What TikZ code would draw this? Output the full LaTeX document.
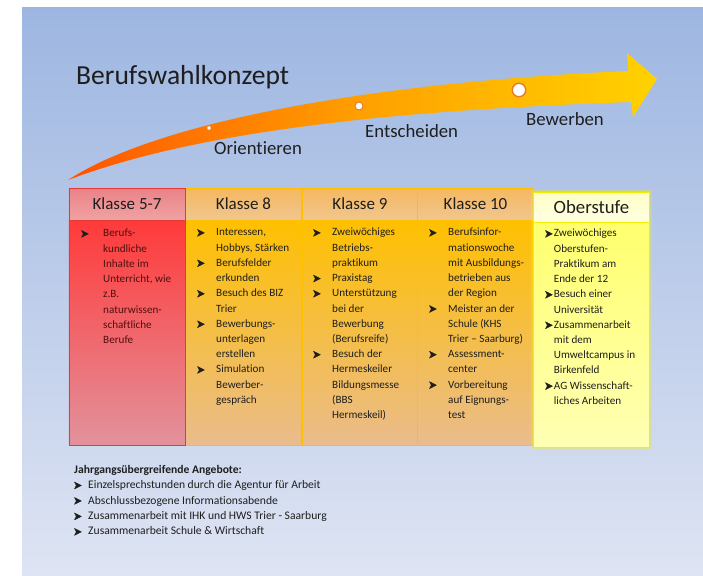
\documentclass[tikz,border=0pt]{standalone}
\usepackage{fontspec}
\setmainfont{Carlito}[Ligatures=NoCommon]
\usepackage{array}

\definecolor{bgtop}{RGB}{157,182,225}
\definecolor{bgbot}{RGB}{222,228,243}
\definecolor{pfa}{RGB}{248,0,0}
\definecolor{pfb}{RGB}{255,40,0}
\definecolor{pfc}{RGB}{255,100,0}
\definecolor{pfd}{RGB}{255,160,0}
\definecolor{pfe}{RGB}{255,210,0}
\definecolor{pff}{RGB}{245,245,30}
\definecolor{rotrand}{RGB}{229,57,53}
\definecolor{rotkopf}{RGB}{234,130,136}
\definecolor{rotkopfu}{RGB}{240,162,162}
\definecolor{rotoben}{RGB}{255,58,58}
\definecolor{rotunten}{RGB}{226,146,156}
\definecolor{orrand}{RGB}{255,192,0}
\definecolor{orkopf}{RGB}{245,184,96}
\definecolor{orkopfu}{RGB}{240,198,142}
\definecolor{oroben}{RGB}{255,192,0}
\definecolor{orunten}{RGB}{234,188,140}
\definecolor{gelbrand}{RGB}{240,240,0}
\definecolor{gelbkopf}{RGB}{255,255,200}
\definecolor{gelbkopfu}{RGB}{255,255,225}
\definecolor{gelboben}{RGB}{255,255,110}
\definecolor{gelbunten}{RGB}{255,255,180}
\definecolor{ringfarbe}{RGB}{230,120,40}
\definecolor{schrift}{RGB}{30,30,30}
\definecolor{rotschrift}{RGB}{80,15,15}

\pgfdeclarehorizontalshading{pfeilverlauf}{100bp}{color(0bp)=(pfa); color(15bp)=(pfb); color(30bp)=(pfc); color(50bp)=(pfd); color(75bp)=(pfe); color(100bp)=(pff)}

\newcommand{\pf}{\tikz[baseline=-2.6pt]\filldraw[schrift, line width=0.3pt, line join=round] (0pt,3pt) -- (6pt,0pt) -- (0pt,-3pt) -- (1.6pt,0pt) -- cycle;}
\newcommand{\liste}[2]{\begin{tabular}{@{}p{#1}@{}l@{}}#2\end{tabular}}

\tikzset{
  kopf/.style={draw, minimum width=3.48cm, minimum height=0.96cm, inner sep=0pt, font=\fontsize{14.5}{16}\selectfont, text=schrift},
  koerper/.style={draw, minimum width=3.48cm, minimum height=6.75cm, inner sep=0pt},
  punkte/.style={anchor=north west, inner sep=0pt, font=\fontsize{9.5}{13}\selectfont, text=schrift},
  etappe/.style={anchor=base west, inner sep=0pt, font=\fontsize{16}{18}\selectfont, text=schrift},
  marke/.style={circle, draw=ringfarbe, fill=white, inner sep=0pt}
}

\begin{document}
\begin{tikzpicture}[x=0.03cm, y=-0.03cm]
  \useasboundingbox (0,0) rectangle (703,575);
  \shade[top color=bgtop, bottom color=bgbot] (22,7) rectangle (703,575);

  % Pfeil
  \shade[shading=pfeilverlauf] (68,180) .. controls (160,120) and (380,82) .. (628,71) -- (627,53) -- (657,79) -- (633,117) -- (631,102) .. controls (400,110) and (200,130) .. (68,180) -- cycle;
  \node[marke, minimum size=3.5pt, line width=0.3pt] (orient) at (209,128) {};
  \node[marke, minimum size=6.8pt, line width=0.8pt] (entsch) at (359,106) {};
  \node[marke, minimum size=11.5pt, line width=1.2pt] (bewerb) at (519,90) {};
  \node[etappe] (lorient) at (214,154) {Orientieren};
  \node[etappe] (lentsch) at (365,137) {Entscheiden};
  \node[etappe] (lbewerb) at (526,125) {Bewerben};
  \node[anchor=base west, inner sep=0pt, font=\fontsize{23.5}{27}\selectfont, text=schrift] (titel) at (76,84) {Berufswahlkonzept};

  % Spalten
  \foreach \name/\x/\txt in {k8/243.5/Klasse 8, k9/360/Klasse 9, k10/475.5/Klasse 10}{
    \node[koerper, draw=orrand, top color=oroben, bottom color=orunten] (\name body) at (\x,332.5) {};
    \node[kopf, draw=orrand, top color=orkopf, bottom color=orkopfu] (\name) at (\x,204) {\txt};
  }
  \node[koerper, draw=rotrand, top color=rotoben, bottom color=rotunten] (k57body) at (127,332.5) {};
  \node[kopf, draw=rotrand, top color=rotkopf, bottom color=rotkopfu] (k57) at (127,204) {Klasse 5-7};
  \draw[gelbrand, opacity=0.35, line width=4pt] (533,192) rectangle (650,447);
  \node[koerper, draw=gelbrand, top color=gelboben, bottom color=gelbunten] (obbody) at (591.5,334.5) {};
  \node[kopf, draw=gelbrand, minimum height=0.9cm, top color=gelbkopf, bottom color=gelbkopfu, font=\fontsize{16}{18}\selectfont] (ob) at (591.5,207) {Oberstufe};

  % Inhalte
  \node[punkte, text=rotschrift] (k57text) at (81,226) {\liste{0.66cm}{\pf & Berufs-\\ & kundliche\\ & Inhalte im\\ & Unterricht, wie\\ & z.B.\\ & naturwissen-\\ & schaftliche\\ & Berufe}};
  \node[punkte] (k8text) at (197,225) {\liste{0.57cm}{\pf & Interessen,\\ & Hobbys, Stärken\\ \pf & Berufsfelder\\ & erkunden\\ \pf & Besuch des BIZ\\ & Trier\\ \pf & Bewerbungs-\\ & unterlagen\\ & erstellen\\ \pf & Simulation\\ & Bewerber-\\ & gespräch}};
  \node[punkte] (k9text) at (313,225) {\liste{0.57cm}{\pf & Zweiwöchiges\\ & Betriebs-\\ & praktikum\\ \pf & Praxistag\\ \pf & Unterstützung\\ & bei der\\ & Bewerbung\\ & (Berufsreife)\\ \pf & Besuch der\\ & Hermeskeiler\\ & Bildungsmesse\\ & (BBS\\ & Hermeskeil)}};
  \node[punkte] (k10text) at (429,225) {\liste{0.57cm}{\pf & Berufsinfor-\\ & mationswoche\\ & mit Ausbildungs-\\ & betrieben aus\\ & der Region\\ \pf & Meister an der\\ & Schule (KHS\\ & Trier -- Saarburg)\\ \pf & Assessment-\\ & center\\ \pf & Vorbereitung\\ & auf Eignungs-\\ & test}};
  \node[punkte] (obtext) at (545,226) {\liste{0.26cm}{\pf & Zweiwöchiges\\ & Oberstufen-\\ & Praktikum am\\ & Ende der 12\\ \pf & Besuch einer\\ & Universität\\ \pf & Zusammenarbeit\\ & mit dem\\ & Umweltcampus in\\ & Birkenfeld\\ \pf & AG Wissenschaft-\\ & liches Arbeiten}};

  % Jahrgangsuebergreifend
  \node[punkte, font=\fontsize{9.9}{13.2}\selectfont] (angebote) at (74,462) {\begin{tabular}{@{}p{0.42cm}@{}l@{}}
    \multicolumn{2}{@{}l@{}}{\bfseries Jahrgangsübergreifende Angebote:}\\
    \pf & Einzelsprechstunden durch die Agentur für Arbeit\\
    \pf & Abschlussbezogene Informationsabende\\
    \pf & Zusammenarbeit mit IHK und HWS Trier - Saarburg\\
    \pf & Zusammenarbeit Schule \& Wirtschaft
  \end{tabular}};
\end{tikzpicture}
\end{document}
